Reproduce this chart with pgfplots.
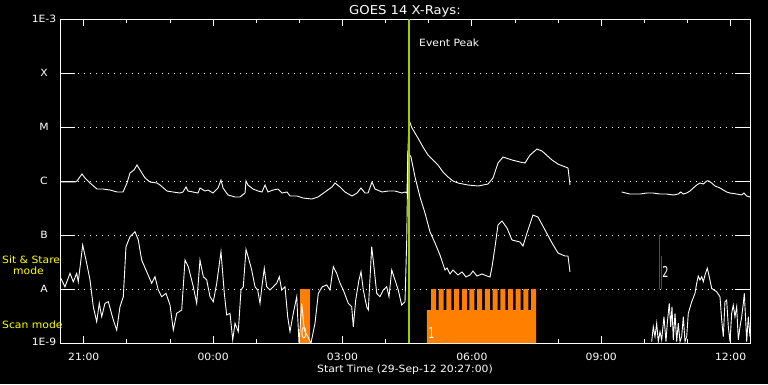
\documentclass[border=0pt]{standalone}
\usepackage{fontspec}
\setmainfont{DejaVu Sans}[FakeStretch=1.08]
\usepackage{pgfplots}
\pgfplotsset{compat=1.18}
\usepackage{graphicx}
\definecolor{scanorange}{RGB}{255,128,0}
\definecolor{peakgreen}{RGB}{160,205,0}
\definecolor{ssmag}{RGB}{190,0,200}
\definecolor{lblyellow}{RGB}{255,255,0}
\begin{document}
\begin{tikzpicture}[font=\fontsize{10}{12}\selectfont]
\fill[black] (-60pt,-41pt) rectangle (708pt,343pt);
\begin{axis}[
  at={(0pt,0pt)}, anchor=south west,
  scale only axis, width=690pt, height=324pt,
  xmin=20.45, xmax=36.45,
  ymode=log, ymin=1e-9, ymax=1e-3,
  xtick={21,24,27,30,33,36},
  xticklabels={21:00,00:00,03:00,06:00,09:00,12:00},
  minor xtick={22,23,25,26,28,29,31,32,34,35},
  ytick={1e-9,1e-8,1e-7,1e-6,1e-5,1e-4,1e-3},
  yticklabels={\raisebox{2pt}{1E-9},A,B,C,M,X,\raisebox{-4pt}{1E-3}},
  yminorticks=false,
  axis line style={white, line width=0.9pt},
  tick align=inside,
  xtick style={white, line width=0.9pt, /pgfplots/major tick length=7pt, /pgfplots/minor tick length=4pt},
  ytick style={white, line width=0.9pt, /pgfplots/major tick length=15pt},
  ymajorgrids,
  major grid style={white, line width=1pt, dash pattern=on 1pt off 5pt},
  xticklabel style={white, yshift=-6.2pt},
  yticklabel style={white, anchor=center, xshift=-16pt},
  title={GOES 14 X-Rays:},
  title style={white, font=\fontsize{12.2}{14}\selectfont, at={(0.5,1)}, anchor=base, yshift=-1pt},
  xlabel={Start Time (29-Sep-12 20:27:00)},
  xlabel style={white, at={(0.5,0)}, anchor=north, yshift=-18.5pt},
]
% scan mode blocks
\addplot[fill=scanorange, draw=none] coordinates {(26.015,1e-9) (26.015,1e-8) (26.247,1e-8) (26.247,1e-9)} -- cycle;
\addplot[fill=scanorange, draw=none] coordinates {
(28.960,1e-9)(28.960,4.08e-9)
(29.053,4.08e-9)(29.053,1e-8)(29.169,1e-8)(29.169,4.08e-9)
(29.231,4.08e-9)(29.231,1e-8)(29.347,1e-8)(29.347,4.08e-9)
(29.410,4.08e-9)(29.410,1e-8)(29.526,1e-8)(29.526,4.08e-9)
(29.588,4.08e-9)(29.588,1e-8)(29.704,1e-8)(29.704,4.08e-9)
(29.767,4.08e-9)(29.767,1e-8)(29.883,1e-8)(29.883,4.08e-9)
(29.945,4.08e-9)(29.945,1e-8)(30.061,1e-8)(30.061,4.08e-9)
(30.123,4.08e-9)(30.123,1e-8)(30.239,1e-8)(30.239,4.08e-9)
(30.302,4.08e-9)(30.302,1e-8)(30.418,1e-8)(30.418,4.08e-9)
(30.480,4.08e-9)(30.480,1e-8)(30.596,1e-8)(30.596,4.08e-9)
(30.659,4.08e-9)(30.659,1e-8)(30.775,1e-8)(30.775,4.08e-9)
(30.837,4.08e-9)(30.837,1e-8)(30.953,1e-8)(30.953,4.08e-9)
(31.015,4.08e-9)(31.015,1e-8)(31.131,1e-8)(31.131,4.08e-9)
(31.194,4.08e-9)(31.194,1e-8)(31.310,1e-8)(31.310,4.08e-9)
(31.372,4.08e-9)(31.372,1e-8)(31.488,1e-8)
(31.488,1e-9)} -- cycle;
% sit and stare markers
\addplot[ssmag, line width=1pt] coordinates {(34.347,1e-8) (34.347,1e-7)};
\addplot[ssmag, line width=1pt] coordinates {(34.393,1e-8) (34.393,4.1e-8)};
% long channel
\addplot[white, line width=0.9pt] coordinates {
(20.450,9.58e-7)(20.682,9.58e-7)(20.798,9.58e-7)(20.844,1.00e-6)(20.960,1.35e-6)(21.030,1.14e-6)(21.146,9.18e-7)(21.308,7.11e-7)(21.447,7.11e-7)(21.609,6.81e-7)(21.772,6.26e-7)(21.911,6.26e-7)(22.004,9.18e-7)(22.073,1.41e-6)(22.166,1.60e-6)(22.236,1.98e-6)(22.305,1.60e-6)(22.421,1.14e-6)(22.537,9.58e-7)(22.699,9.18e-7)(22.769,8.43e-7)(22.931,6.53e-7)(23.070,6.26e-7)(23.233,5.99e-7)(23.302,6.26e-7)(23.372,7.74e-7)(23.418,6.53e-7)(23.534,6.26e-7)(23.650,5.99e-7)(23.696,7.42e-7)(23.812,6.53e-7)(23.882,6.81e-7)(23.998,5.99e-7)(24.114,7.42e-7)(24.183,1.04e-6)(24.230,7.42e-7)(24.346,5.51e-7)(24.508,5.06e-7)(24.624,5.06e-7)(24.740,5.99e-7)(24.763,1.00e-6)(24.809,8.43e-7)(24.925,7.11e-7)(25.041,6.53e-7)(25.134,6.26e-7)(25.204,8.43e-7)(25.273,6.26e-7)(25.389,6.81e-7)(25.505,7.11e-7)(25.598,5.99e-7)(25.714,6.26e-7)(25.784,5.28e-7)(25.946,5.28e-7)(26.085,4.85e-7)(26.293,4.64e-7)(26.433,5.06e-7)(26.595,6.26e-7)(26.757,7.74e-7)(26.827,9.18e-7)(26.943,7.74e-7)(27.059,6.26e-7)(27.221,5.28e-7)(27.337,5.99e-7)(27.430,7.42e-7)(27.522,5.99e-7)(27.592,5.99e-7)(27.685,9.58e-7)(27.754,7.11e-7)(27.917,6.26e-7)(28.056,6.53e-7)(28.218,6.53e-7)(28.380,5.99e-7)(28.450,6.26e-7)(28.496,5.99e-7)(28.519,3.75e-6)(28.543,1.35e-5)(28.612,9.58e-6)(28.751,6.25e-6)(28.867,4.26e-6)(28.983,3.03e-6)(29.099,2.45e-6)(29.215,1.98e-6)(29.331,1.47e-6)(29.447,1.19e-6)(29.563,1.00e-6)(29.679,9.18e-7)(29.911,8.43e-7)(30.143,8.08e-7)(30.375,8.80e-7)(30.491,1.14e-6)(30.606,2.15e-6)(30.722,2.78e-6)(30.931,2.45e-6)(31.117,2.25e-6)(31.233,2.15e-6)(31.349,3.03e-6)(31.511,3.91e-6)(31.627,3.59e-6)(31.859,2.45e-6)(31.998,2.06e-6)(32.230,1.74e-6)(32.276,8.43e-7)
};
\addplot[white, line width=0.9pt] coordinates {
(33.475,6.26e-7)(33.667,5.74e-7)(33.899,5.74e-7)(34.054,5.99e-7)(34.207,5.99e-7)(34.363,5.74e-7)(34.518,5.74e-7)(34.671,5.51e-7)(34.787,5.74e-7)(34.843,6.26e-7)(34.903,5.74e-7)(34.982,5.99e-7)(35.058,6.53e-7)(35.135,7.42e-7)(35.214,8.43e-7)(35.290,9.18e-7)(35.367,8.80e-7)(35.446,1.00e-6)(35.483,1.01e-6)(35.561,9.18e-7)(35.638,8.08e-7)(35.754,7.42e-7)(35.831,6.81e-7)(35.909,6.26e-7)(35.986,5.99e-7)(36.141,5.74e-7)(36.257,5.51e-7)(36.310,5.99e-7)(36.373,5.28e-7)(36.450,5.06e-7)
};
% short channel
\addplot[white, line width=0.9pt] coordinates {
(20.450,1.69e-8)(20.566,1.10e-8)(20.682,1.95e-8)(20.758,1.36e-8)(20.837,1.95e-8)(20.874,1.36e-8)(20.976,6.53e-8)(21.069,2.99e-8)(21.146,1.47e-8)(21.222,4.70e-9)(21.301,2.48e-9)(21.361,5.43e-9)(21.417,3.07e-9)(21.493,5.43e-9)(21.570,5.82e-9)(21.686,2.67e-9)(21.765,1.74e-9)(21.841,4.70e-9)(21.918,7.20e-9)(21.980,6.07e-8)(22.073,9.31e-8)(22.189,1.15e-7)(22.266,8.08e-8)(22.344,3.44e-8)(22.460,2.09e-8)(22.576,1.28e-8)(22.653,1.69e-8)(22.729,9.58e-9)(22.808,7.20e-9)(22.908,8.32e-9)(23.001,5.05e-9)(23.077,1.74e-9)(23.156,3.55e-9)(23.272,4.08e-9)(23.349,3.44e-8)(23.425,2.59e-8)(23.541,1.10e-8)(23.620,5.43e-9)(23.696,3.44e-8)(23.773,1.69e-8)(23.852,1.47e-8)(23.928,7.20e-9)(24.005,5.82e-9)(24.084,1.28e-8)(24.183,4.91e-8)(24.260,8.32e-9)(24.315,3.30e-9)(24.392,3.55e-9)(24.455,1.14e-9)(24.508,2.32e-9)(24.584,1.62e-9)(24.647,9.58e-9)(24.700,1.10e-8)(24.763,5.43e-8)(24.833,3.44e-8)(24.895,2.25e-8)(24.972,1.10e-8)(25.034,9.58e-9)(25.088,5.43e-9)(25.127,1.03e-8)(25.187,2.42e-8)(25.243,1.10e-8)(25.320,9.58e-9)(25.396,1.10e-8)(25.475,1.28e-8)(25.535,1.69e-8)(25.591,9.58e-9)(25.667,1.10e-8)(25.730,3.07e-9)(25.783,1.62e-9)(25.860,3.55e-9)(25.939,7.20e-9)(25.992,1.0e-9)(26.055,5.43e-9)(26.115,1.74e-9)(26.194,1.31e-9)(26.270,1.0e-9)(26.363,2.32e-9)(26.440,8.32e-9)(26.532,1.10e-8)(26.634,1.19e-8)(26.711,9.58e-9)(26.787,2.59e-8)(26.866,1.95e-8)(26.943,1.28e-8)(27.019,9.58e-9)(27.135,5.43e-9)(27.214,4.70e-9)(27.251,2.00e-9)(27.307,6.25e-9)(27.383,1.47e-8)(27.430,2.09e-8)(27.483,9.58e-9)(27.562,4.70e-9)(27.599,4.08e-9)(27.678,6.07e-8)(27.738,2.25e-8)(27.794,8.32e-9)(27.870,7.20e-9)(27.947,9.58e-9)(28.026,1.10e-8)(28.079,7.20e-9)(28.142,2.25e-8)(28.218,1.47e-8)(28.294,9.58e-9)(28.373,5.05e-9)(28.450,5.82e-9)(28.489,7.52e-8)(28.519,3.44e-6)(28.589,2.78e-6)(28.682,1.19e-6)(28.798,5.06e-7)(28.914,2.55e-7)(29.030,1.14e-7)(29.146,7.11e-8)(29.261,4.26e-8)(29.377,2.25e-8)(29.424,2.45e-8)(29.493,1.90e-8)(29.563,2.25e-8)(29.679,1.82e-8)(29.772,2.07e-8)(29.864,1.67e-8)(29.957,1.82e-8)(30.027,2.15e-8)(30.119,1.74e-8)(30.235,1.90e-8)(30.351,1.74e-8)(30.421,1.67e-8)(30.467,2.55e-8)(30.537,6.0e-8)(30.606,1.53e-7)(30.699,1.82e-7)(30.815,1.35e-7)(30.931,8.08e-8)(31.117,7.41e-8)(31.186,6.25e-8)(31.279,1.09e-7)(31.418,2.34e-7)(31.534,2.15e-7)(31.696,1.24e-7)(31.859,7.11e-8)(31.998,4.64e-8)(32.160,4.08e-8)(32.230,4.08e-8)(32.276,2.07e-8)
};
\addplot[white, line width=0.9pt] coordinates {
(34.170,1.06e-9)(34.207,2.00e-9)(34.247,1.31e-9)(34.286,2.32e-9)(34.323,1.06e-9)(34.363,1.62e-9)(34.402,1.14e-9)(34.455,3.07e-9)(34.502,1.06e-9)(34.532,2.32e-9)(34.578,5.43e-9)(34.611,2.00e-9)(34.641,4.70e-9)(34.671,1.14e-9)(34.711,3.55e-9)(34.750,1.06e-9)(34.787,2.32e-9)(34.827,1.06e-9)(34.866,1.31e-9)(34.903,3.07e-9)(34.943,1.06e-9)(34.982,1.31e-9)(35.019,3.55e-9)(35.098,5.82e-9)(35.174,8.32e-9)(35.214,1.28e-8)(35.251,1.74e-8)(35.290,1.47e-8)(35.330,1.69e-8)(35.367,1.36e-8)(35.406,1.82e-8)(35.459,2.42e-8)(35.506,1.69e-8)(35.561,1.03e-8)(35.615,9.58e-9)(35.677,8.91e-9)(35.754,7.20e-9)(35.793,2.67e-9)(35.831,1.31e-9)(35.870,5.82e-9)(35.909,6.25e-9)(35.947,2.00e-9)(35.986,1.06e-9)(36.025,3.55e-9)(36.062,5.05e-9)(36.102,3.07e-9)(36.141,4.70e-9)(36.179,1.14e-9)(36.218,2.00e-9)(36.257,3.07e-9)(36.295,5.43e-9)(36.318,8.32e-9)(36.357,2.00e-9)(36.373,1.06e-9)(36.410,3.07e-9)(36.450,1.31e-9)
};
% event peak
\addplot[peakgreen, line width=2.2pt] coordinates {(28.543,1e-9) (28.543,1e-3)};
\node[white, anchor=west, inner sep=0pt] at (axis cs:28.775,3.62e-4) {Event Peak};
\node[white, inner sep=0pt] at (axis cs:26.108,1.53e-9) {\scalebox{0.55}[1]{\fontsize{15}{15}\selectfont 0}};
\node[white, inner sep=0pt] at (axis cs:29.064,1.53e-9) {\scalebox{0.55}[1]{\fontsize{15}{15}\selectfont 1}};
\node[white, inner sep=0pt] at (axis cs:34.49,2.07e-8) {\scalebox{0.6}[1]{\fontsize{15}{15}\selectfont 2}};
\end{axis}
\node[lblyellow, anchor=west, inner sep=0pt] at (-58pt,83.5pt) {Sit \& Stare};
\node[lblyellow, anchor=west, inner sep=0pt] at (-47pt,71.8pt) {mode};
\node[lblyellow, anchor=west, inner sep=0pt] at (-58pt,18.5pt) {Scan mode};
\pgfresetboundingbox
\path[use as bounding box] (-60pt,-41pt) rectangle (708pt,343pt);
\end{tikzpicture}
\end{document}
